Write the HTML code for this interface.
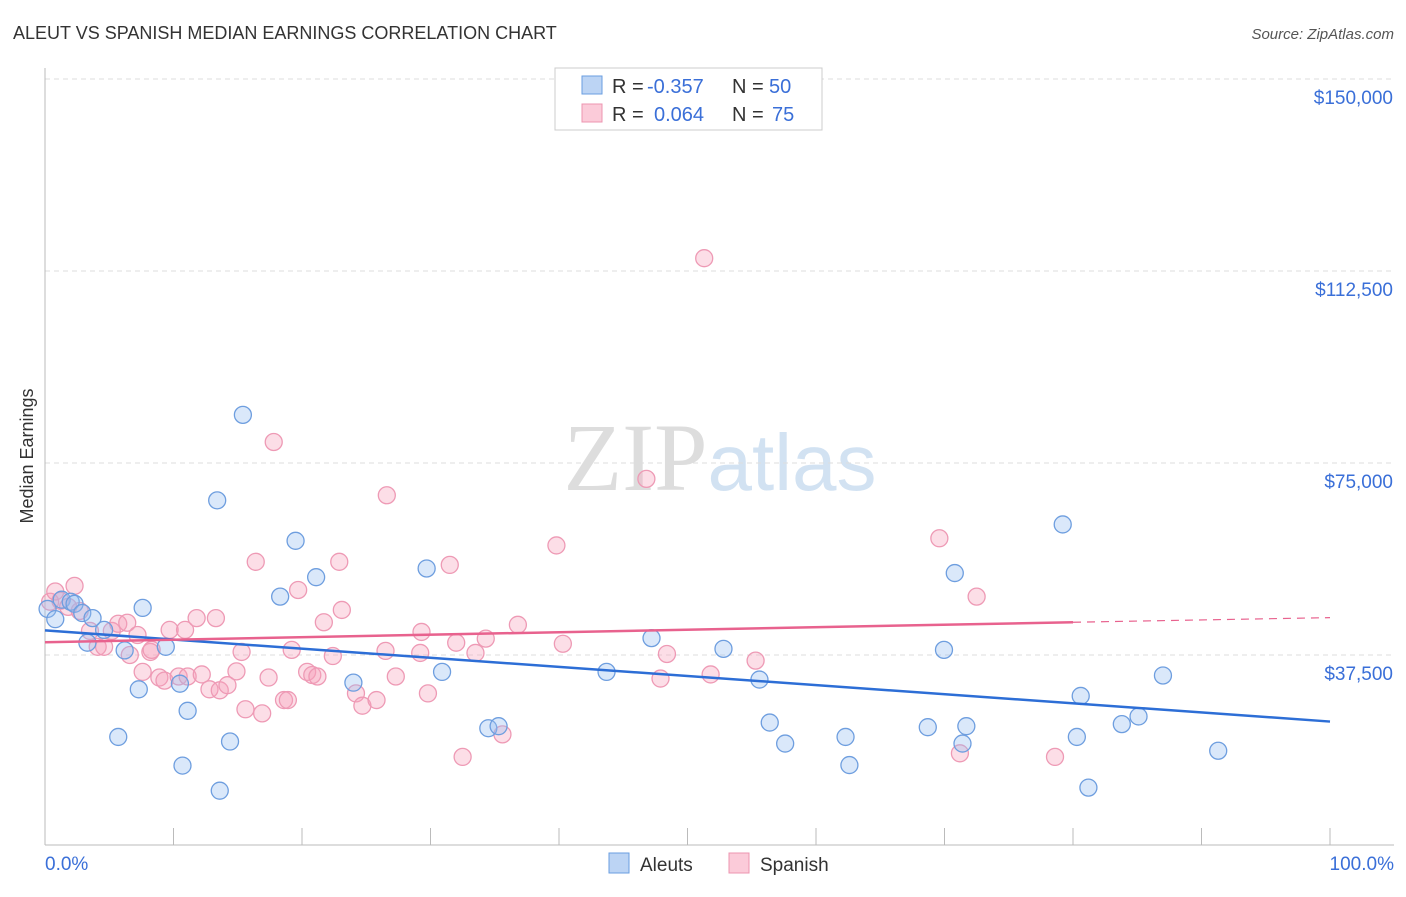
<!DOCTYPE html>
<html><head><meta charset="utf-8"><style>
body{margin:0;background:#fff;font-family:"Liberation Sans",sans-serif;}
</style></head><body>
<svg id="chart" width="1406" height="892" xmlns="http://www.w3.org/2000/svg" font-family="Liberation Sans, sans-serif">
<text x="13" y="39" font-size="18" fill="#333">ALEUT VS SPANISH MEDIAN EARNINGS CORRELATION CHART</text>
<text x="1394" y="39" font-size="15" fill="#555" text-anchor="end" font-style="italic">Source: ZipAtlas.com</text>
<text transform="translate(33,456) rotate(-90)" font-size="18" fill="#333" text-anchor="middle">Median Earnings</text>
<text x="720" y="490" font-size="96" text-anchor="middle" fill="#ddd" opacity="0.8"><tspan font-family="Liberation Serif, serif" fill="#d5d5d5">ZIP</tspan><tspan fill="#c8dcf0" font-size="80">atlas</tspan></text>
<g id="grid"></g><g id="axes"></g><g id="pts"></g><g id="trend"></g>
<g>
<rect x="555" y="68" width="267" height="62" fill="#fff" stroke="#ccc"/>
<rect x="582" y="76" width="20" height="18" fill="#bcd4f4" stroke="#6a9ee0"/>
<rect x="582" y="104" width="20" height="18" fill="#fbcbd9" stroke="#ec94b0"/>
<text y="93" font-size="20" fill="#333"><tspan x="612">R =</tspan><tspan x="647" fill="#3a6fd8">-0.357</tspan><tspan x="732">N =</tspan><tspan x="769" fill="#3a6fd8">50</tspan></text>
<text y="121" font-size="20" fill="#333"><tspan x="612">R =</tspan><tspan x="654" fill="#3a6fd8">0.064</tspan><tspan x="732">N =</tspan><tspan x="772" fill="#3a6fd8">75</tspan></text>
</g>
<g>
<rect x="609" y="853" width="20" height="20" fill="#bcd4f4" stroke="#6a9ee0"/>
<text x="640" y="871" font-size="19" fill="#333">Aleuts</text>
<rect x="729" y="853" width="20" height="20" fill="#fbcbd9" stroke="#ec94b0"/>
<text x="760" y="871" font-size="19" fill="#333">Spanish</text>
</g>
</svg>
<script>
const yTicks=[37500,75000,112500,150000];
const yTickLabels=["$37,500","$75,000","$112,500","$150,000"];
const xTickLabels=["0.0%","100.0%"];
const blueX=[0.2,0.8,1.3,2.0,2.3,2.9,3.3,3.7,4.6,5.7,6.2,7.3,7.6,9.4,10.5,10.7,11.1,13.4,13.6,14.4,15.4,18.3,19.5,21.1,24.0,29.7,30.9,34.5,35.3,43.7,47.2,52.8,55.6,56.4,57.6,62.3,62.6,68.7,69.960,70.8,71.4,71.7,79.2,80.3,80.6,81.2,83.8,85.1,87.0,91.3];
const blueY=[46500,44500,48300,47900,47500,45700,39900,44700,42400,21500,38400,30800,46700,39100,31900,15900,26600,67700,11000,20600,84400,48900,59800,52700,32100,54400,34200,23200,23600,34200,40800,38700,32700,24300,20200,21500,16000,23400,38500,53500,20200,23600,63000,21500,29500,11600,24000,25500,33500,18800];
const pinkX=[0.4,0.8,1.2,1.8,2.3,2.7,3.5,4.1,4.6,5.2,5.7,6.4,7.2,7.6,8.2,8.9,9.3,9.7,10.4,10.9,11.1,11.8,12.2,12.8,13.3,13.6,14.2,14.9,15.3,15.6,16.4,16.9,17.4,17.8,18.6,18.9,19.2,19.7,20.4,20.8,21.2,21.7,22.4,22.9,23.1,24.2,24.7,25.8,26.6,26.5,27.3,29.2,29.3,29.8,31.5,32.0,32.5,33.5,34.3,35.6,36.8,39.8,40.3,46.8,47.9,48.4,51.3,51.8,55.3,69.6,71.2,72.5,78.6,6.6,8.3];
const pinkY=[47900,49900,48100,46900,51000,46100,42200,39100,39100,42200,43600,43800,41400,34200,38100,33100,32500,42400,33300,42400,33300,44700,33700,30800,44700,30600,31600,34300,38100,26900,55700,26100,33100,79100,28700,28700,38500,50200,34200,33600,33300,43900,37300,55700,46300,30000,27600,28700,68700,38300,33300,37900,42000,30000,55100,39900,17600,37900,40700,22000,43400,58900,39700,71900,32900,37700,115000,33700,36400,60300,18300,48900,17600,37500,38500];
const blueTrend=[42300,24500];
const pinkTrend=[40000,43900,44800];
const X0=45,X1=1330,YB=655,PX=192/37500;
const sx=p=>X0+(X1-X0)*p/100, sy=v=>YB-(v-37500)*PX;
const NS="http://www.w3.org/2000/svg";
function mk(t,a,parent){const e=document.createElementNS(NS,t);for(const k in a)e.setAttribute(k,a[k]);document.getElementById(parent).appendChild(e);return e;}
yTicks.forEach((v,i)=>{
 const l=mk('line',{x1:X0,x2:1394,y1:sy(v),y2:sy(v),stroke:'#ddd','stroke-dasharray':'5,4'},'grid');
 
 
 const t=mk('text',{x:1393,y:sy(v)+25,'font-size':19,fill:'#3a6fd8','text-anchor':'end'},'grid');t.textContent=yTickLabels[i];
 
 
});
mk('line',{x1:X0,x2:X0,y1:68,y2:845,stroke:'#bbb'},'axes');
mk('line',{x1:X0,x2:1394,y1:845,y2:845,stroke:'#bbb'},'axes');
for(let i=0;i<=10;i++){const tk=mk('line',{x1:sx(i*10),x2:sx(i*10),y1:828,y2:845,stroke:'#bbb'},'axes');
 
 }
let t0=mk('text',{x:45,y:870,'font-size':19,fill:'#3a6fd8'},'axes');t0.textContent=xTickLabels[0];


let t1=mk('text',{x:1394,y:870,'font-size':19,fill:'#3a6fd8','text-anchor':'end'},'axes');t1.textContent=xTickLabels[1];


pinkX.forEach((x,i)=>{const c=mk('circle',{cx:sx(x),cy:sy(pinkY[i]),r:8.5,fill:'rgba(246,160,186,0.35)',stroke:'#ee9ab5','stroke-width':1.3},'pts');
 
 });
blueX.forEach((x,i)=>{const c=mk('circle',{cx:sx(x),cy:sy(blueY[i]),r:8.5,fill:'rgba(150,190,240,0.35)',stroke:'#6e9edf','stroke-width':1.3},'pts');
 
 });
let bl=mk('line',{x1:sx(0),y1:sy(blueTrend[0]),x2:sx(100),y2:sy(blueTrend[1]),stroke:'#2d6ed6','stroke-width':2.5},'trend');


let pl=mk('line',{x1:sx(0),y1:sy(pinkTrend[0]),x2:sx(80),y2:sy(pinkTrend[1]),stroke:'#e8628e','stroke-width':2.5},'trend');


let pd=mk('line',{x1:sx(80),y1:sy(pinkTrend[1]),x2:sx(100),y2:sy(pinkTrend[2]),stroke:'#e8628e','stroke-width':1.2,'stroke-dasharray':'8,6'},'trend');


</script>
</body></html>
